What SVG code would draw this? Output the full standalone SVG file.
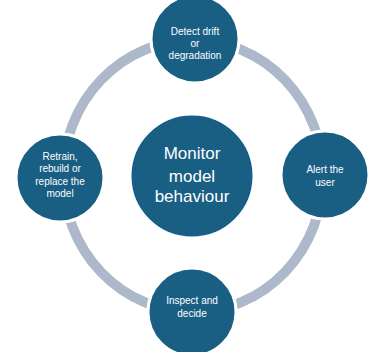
<svg xmlns="http://www.w3.org/2000/svg" width="385" height="352" viewBox="0 0 385 352">
<style>
.node{fill:#195E83;stroke:#ffffff;stroke-width:3}
.t{fill:#ffffff;font-family:"Liberation Sans",Arial,sans-serif;font-size:10px;text-anchor:middle}
.big{font-size:17px}
</style>
<rect width="385" height="352" fill="#ffffff"/>
<g id="connectors">
<ellipse cx="193" cy="176" rx="130" ry="136" fill="none" stroke="#ADB9CA" stroke-width="10"/>
</g>
<g id="center">
<circle class="node" cx="192" cy="176" r="62"/>
<text class="t big" x="192" y="159">Monitor</text>
<text class="t big" x="192" y="182">model</text>
<text class="t big" x="192" y="202">behaviour</text>
</g>
<g id="detect">
<circle class="node" cx="195" cy="39" r="44"/>
<text class="t" x="195" y="34.5">Detect drift</text>
<text class="t" x="195" y="46.5">or</text>
<text class="t" x="195" y="58.5">degradation</text>
</g>
<g id="alert">
<circle class="node" cx="325" cy="175" r="44"/>
<text class="t" x="325" y="172.5">Alert the</text>
<text class="t" x="325" y="185.5">user</text>
</g>
<g id="inspect">
<circle class="node" cx="192" cy="312" r="44"/>
<text class="t" x="192" y="303.5">Inspect and</text>
<text class="t" x="192" y="316.5">decide</text>
</g>
<g id="retrain">
<circle class="node" cx="60" cy="178" r="44"/>
<text class="t" x="60" y="159.5">Retrain,</text>
<text class="t" x="60" y="172">rebuild or</text>
<text class="t" x="60" y="184.5">replace the</text>
<text class="t" x="60" y="197">model</text>
</g>
</svg>
